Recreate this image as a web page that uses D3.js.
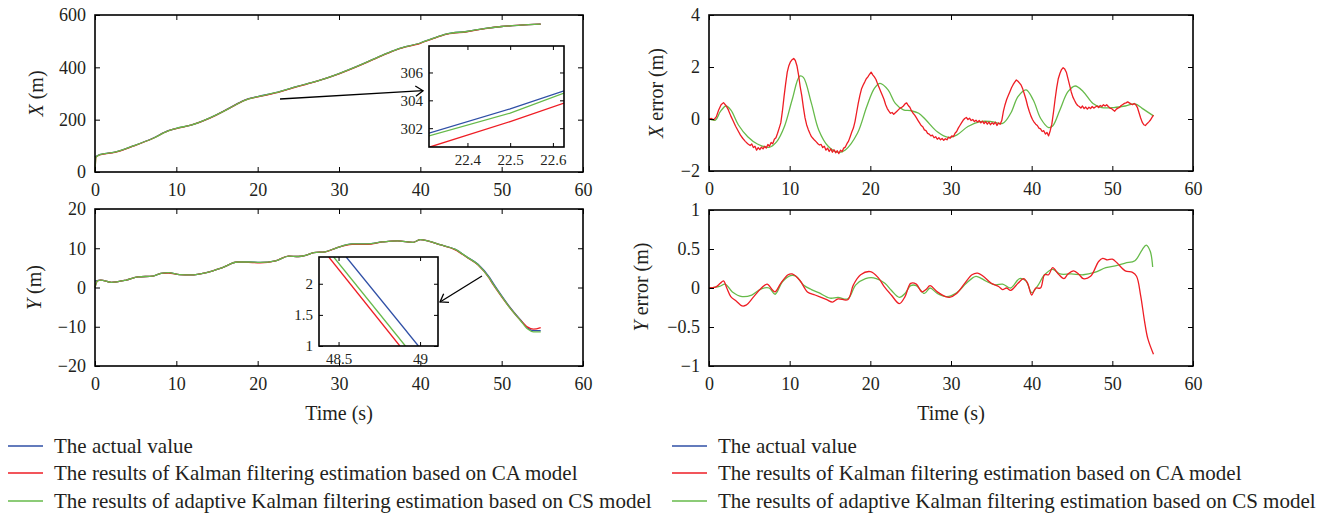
<!DOCTYPE html>
<html><head><meta charset="utf-8">
<script src="https://cdn.jsdelivr.net/npm/d3@7"></script>
<style>body{margin:0;background:#fff}svg{display:block}</style>
</head><body><svg id="c" width="1334" height="516"></svg>
<script>
// ---------------- DATA ----------------
const seriesNames = ["The actual value",
  "The results of Kalman filtering estimation based on CA model",
  "The results of adaptive Kalman filtering estimation based on CS model"];

const xTicksMain = [0,10,20,30,40,50,60];
const yTicksX = [0,200,400,600];
const yTicksY = [-20,-10,0,10,20];
const yTicksXErr = [-2,0,2,4];
const yTicksYErr = [-1,-0.5,0,0.5,1];

// X position (m): [time s, value]
const xActual = [[0,57],[0.56,66],[2.44,76],[4.8,101],[7.1,129],[9.0,158],[10,167],[11.8,179],[14.2,208],[16.5,244],[18.4,275],[20,288],[22.2,303],[25,328],[27.3,347],[30,376],[33,414],[35.3,446],[37.2,470],[40,493],[41.4,509],[43.3,528],[45.7,537],[48,549],[50,556],[52.3,561],[54.8,565]];
const xCA = [[0,0],[0.12,57],[0.56,65],[2.44,75],[4.8,100],[7.1,128],[9.0,157],[10,166],[11.8,179],[14.2,207],[16.5,243],[18.4,274],[20,287],[22.2,302],[25,327],[27.3,347],[30,375],[33,413],[35.3,445],[37.2,469],[40,492],[41.4,508],[43.3,527],[45.7,536],[48,548],[50,556],[52.3,561],[54.8,565]];
const xCS = [[0,0],[0.12,57],[0.56,66],[2.44,76],[4.8,101],[7.1,128],[9.0,157],[10,167],[11.8,179],[14.2,208],[16.5,243],[18.4,274],[20,288],[22.2,303],[25,328],[27.3,347],[30,376],[33,414],[35.3,446],[37.2,470],[40,493],[41.4,509],[43.3,528],[45.7,537],[48,549],[50,556],[52.3,561],[54.8,565]];

// Y position (m)
const yActual = [[0,1.6],[0.7,1.9],[2,1.3],[3.85,1.9],[5.3,2.7],[7.1,2.9],[8.1,3.6],[9,3.8],[10.4,3.3],[11.8,3.2],[13.7,3.8],[15.6,5.0],[17.5,6.5],[18.9,6.5],[20.3,6.4],[22.2,6.8],[23.8,8.0],[25,7.9],[25.9,8.2],[26.9,8.9],[28.3,9.1],[29.7,10.1],[31.6,11.1],[33.5,11.1],[35.3,11.6],[37.2,11.9],[39.1,11.5],[40,12.2],[41,11.8],[42.4,10.9],[44.3,9.7],[45.7,7.8],[47.1,5.9],[48.55,2.43],[48.99,1.0],[49.4,-0.3],[50.8,-4.4],[52.3,-8.2],[53.2,-10.3],[53.9,-11.0],[54.8,-11.0]];
const yCA = [[0,0],[0.3,1.7],[0.7,1.9],[2,1.3],[3.85,1.9],[5.3,2.7],[7.1,2.9],[8.1,3.6],[9,3.7],[10.4,3.3],[11.8,3.2],[13.7,3.8],[15.6,5.0],[17.5,6.5],[18.9,6.4],[20.3,6.3],[22.2,6.8],[23.8,8.0],[25,7.9],[25.9,8.2],[26.9,8.9],[28.3,9.1],[29.7,10.1],[31.6,11.0],[33.5,11.0],[35.3,11.6],[37.2,11.9],[39.1,11.5],[40,12.2],[41,11.8],[42.4,10.9],[44.3,9.6],[45.7,7.7],[47.1,5.7],[48.44,2.43],[48.876,1.0],[49.4,-0.6],[50.8,-4.6],[52.3,-8.3],[53.2,-10.1],[53.9,-10.6],[54.8,-10.2]];
const yCS = [[0,0],[0.3,1.7],[0.7,1.9],[2,1.3],[3.85,1.9],[5.3,2.7],[7.1,2.9],[8.1,3.6],[9,3.8],[10.4,3.3],[11.8,3.2],[13.7,3.8],[15.6,5.0],[17.5,6.5],[18.9,6.5],[20.3,6.4],[22.2,6.8],[23.8,8.0],[25,7.9],[25.9,8.2],[26.9,8.9],[28.3,9.1],[29.7,10.1],[31.6,11.1],[33.5,11.1],[35.3,11.6],[37.2,11.9],[39.1,11.5],[40,12.2],[41,11.8],[42.4,10.9],[44.3,9.7],[45.7,7.8],[47.1,5.8],[48.47,2.43],[48.91,1.0],[49.4,-0.5],[50.8,-4.6],[52.3,-8.4],[53.2,-10.6],[53.9,-11.3],[54.8,-11.3]];

// X error (m)
const xErrCA = [[0,0],[0.3,0.02],[0.6,-0.03],[0.9,0.08],[1.2,0.35],[1.5,0.55],[1.8,0.63],[2.1,0.52],[2.4,0.35],[2.7,0.12],[3.0,-0.08],[3.3,-0.28],[3.6,-0.45],[3.9,-0.62],[4.2,-0.75],[4.5,-0.86],[4.8,-0.95],[5.1,-1.02],[5.3,-0.96],[5.5,-1.1],[5.7,-1.05],[5.9,-1.2],[6.1,-1.1],[6.3,-1.18],[6.5,-1.08],[6.7,-1.15],[6.9,-1.05],[7.1,-1.12],[7.3,-0.98],[7.5,-1.05],[7.7,-0.9],[7.9,-0.95],[8.1,-0.78],[8.3,-0.72],[8.5,-0.55],[8.7,-0.35],[8.9,-0.15],[9.1,0.3],[9.3,0.85],[9.5,1.35],[9.7,1.8],[9.9,2.05],[10.1,2.2],[10.3,2.28],[10.5,2.33],[10.7,2.25],[10.9,2.05],[11.1,1.7],[11.3,1.25],[11.5,0.9],[11.7,0.45],[11.9,0.05],[12.1,-0.22],[12.3,-0.4],[12.5,-0.55],[12.7,-0.68],[12.9,-0.75],[13.1,-0.82],[13.3,-0.88],[13.5,-0.95],[13.7,-1.0],[13.9,-0.98],[14.1,-1.1],[14.3,-1.05],[14.5,-1.2],[14.7,-1.12],[14.9,-1.25],[15.1,-1.15],[15.3,-1.28],[15.5,-1.18],[15.7,-1.3],[15.9,-1.22],[16.1,-1.33],[16.3,-1.2],[16.5,-1.25],[16.7,-1.12],[16.9,-1.08],[17.1,-0.95],[17.3,-0.85],[17.5,-0.68],[17.7,-0.5],[17.9,-0.35],[18.1,-0.1],[18.3,0.25],[18.5,0.6],[18.7,0.9],[18.9,1.15],[19.1,1.3],[19.3,1.42],[19.5,1.55],[19.7,1.62],[19.9,1.72],[20.1,1.8],[20.3,1.7],[20.5,1.62],[20.7,1.52],[20.9,1.35],[21.1,1.2],[21.3,1.05],[21.5,0.9],[21.7,0.75],[21.9,0.55],[22.1,0.4],[22.3,0.3],[22.5,0.22],[22.7,0.25],[22.9,0.18],[23.1,0.24],[23.3,0.3],[23.5,0.36],[23.7,0.42],[23.9,0.45],[24.1,0.5],[24.3,0.58],[24.5,0.62],[24.7,0.52],[24.9,0.45],[25.1,0.32],[25.3,0.22],[25.5,0.15],[25.7,0.05],[25.9,-0.05],[26.1,-0.15],[26.3,-0.25],[26.5,-0.3],[26.7,-0.42],[26.9,-0.45],[27.1,-0.55],[27.3,-0.58],[27.5,-0.65],[27.7,-0.62],[27.9,-0.72],[28.1,-0.68],[28.3,-0.78],[28.5,-0.72],[28.7,-0.8],[28.9,-0.75],[29.1,-0.82],[29.3,-0.76],[29.5,-0.8],[29.7,-0.7],[29.9,-0.74],[30.1,-0.65],[30.3,-0.68],[30.5,-0.55],[30.7,-0.48],[30.9,-0.35],[31.1,-0.25],[31.3,-0.15],[31.5,-0.05],[31.7,0.02],[31.9,0.06],[32.1,-0.02],[32.3,0.03],[32.5,-0.06],[32.7,-0.02],[32.9,-0.1],[33.1,-0.05],[33.3,-0.12],[33.5,-0.06],[33.7,-0.15],[33.9,-0.08],[34.1,-0.18],[34.3,-0.1],[34.5,-0.2],[34.7,-0.12],[34.9,-0.22],[35.1,-0.14],[35.3,-0.2],[35.5,-0.12],[35.7,-0.25],[35.9,-0.15],[36.1,-0.2],[36.3,-0.05],[36.5,0.3],[36.7,0.55],[36.9,0.75],[37.1,0.9],[37.3,1.05],[37.5,1.2],[37.7,1.32],[37.9,1.42],[38.1,1.5],[38.3,1.45],[38.5,1.38],[38.7,1.3],[38.9,1.15],[39.1,0.95],[39.3,0.75],[39.5,0.5],[39.7,0.3],[39.9,0.12],[40.1,-0.02],[40.3,-0.12],[40.5,-0.2],[40.7,-0.25],[40.9,-0.35],[41.1,-0.38],[41.3,-0.48],[41.5,-0.45],[41.7,-0.58],[41.9,-0.52],[42.1,-0.65],[42.3,-0.45],[42.5,-0.2],[42.7,0.25],[42.9,0.75],[43.1,1.2],[43.3,1.55],[43.5,1.75],[43.7,1.9],[43.9,1.97],[44.1,1.92],[44.3,1.8],[44.5,1.55],[44.7,1.3],[44.9,1.05],[45.1,0.85],[45.3,0.72],[45.5,0.6],[45.7,0.52],[45.9,0.48],[46.1,0.42],[46.3,0.5],[46.5,0.4],[46.7,0.46],[46.9,0.38],[47.1,0.45],[47.3,0.4],[47.5,0.48],[47.7,0.42],[47.9,0.46],[48.1,0.5],[48.3,0.44],[48.5,0.52],[48.7,0.48],[48.9,0.55],[49.1,0.5],[49.3,0.55],[49.5,0.48],[49.7,0.42],[49.9,0.4],[50.1,0.35],[50.3,0.3],[50.5,0.38],[50.7,0.42],[50.9,0.45],[51.1,0.52],[51.3,0.56],[51.5,0.6],[51.7,0.62],[51.9,0.66],[52.1,0.62],[52.3,0.58],[52.5,0.55],[52.7,0.6],[52.9,0.55],[53.1,0.45],[53.3,0.25],[53.5,0.05],[53.7,-0.12],[53.9,-0.22],[54.1,-0.25],[54.3,-0.18],[54.5,-0.12],[54.7,-0.05],[54.9,0.05],[55.1,0.15]];
const xErrCS = [[0,0],[0.8,-0.04],[1.4,0.28],[2.1,0.5],[2.7,0.35],[3.65,-0.23],[4.8,-0.68],[6.0,-0.96],[7.45,-1.09],[8.4,-0.87],[9.35,-0.29],[10.3,0.73],[11.25,1.65],[11.7,1.6],[12.7,0.6],[13.6,-0.42],[14.8,-1.06],[16.0,-1.28],[16.9,-1.19],[18.4,-0.55],[19.55,0.47],[20.5,1.18],[21.2,1.37],[22.2,1.12],[23.1,0.6],[24.1,0.35],[25.0,0.32],[26.0,0.22],[26.9,-0.04],[28.3,-0.49],[29.7,-0.71],[30.7,-0.62],[32.1,-0.29],[33.6,-0.1],[35.0,-0.1],[36.4,-0.17],[37.4,0.22],[38.3,0.86],[39.3,1.12],[40.2,0.73],[41.1,0.03],[42.1,-0.33],[42.6,-0.27],[43.5,0.35],[44.5,1.05],[45.4,1.27],[46.4,1.05],[47.6,0.6],[48.7,0.44],[50.2,0.44],[51.6,0.5],[52.8,0.58],[53.7,0.41],[55.1,0.12]];

// Y error (m)
const yErrCA = [[0,0],[0.8,0.01],[1.4,0.06],[1.8,0.09],[2.2,0],[2.7,-0.11],[3.4,-0.17],[4.1,-0.23],[4.6,-0.22],[5.55,-0.11],[6.5,0],[7.2,0.05],[7.9,-0.03],[8.2,-0.05],[8.9,0.06],[9.8,0.17],[10.3,0.18],[11.25,0.1],[12.2,-0.05],[13.15,-0.09],[14.6,-0.15],[15.3,-0.18],[16.0,-0.14],[17.2,-0.15],[17.9,0.04],[18.8,0.17],[20.0,0.21],[21.0,0.13],[21.7,0.02],[22.6,-0.09],[23.6,-0.2],[24.3,-0.11],[25.0,0.06],[25.7,0.05],[26.4,-0.05],[26.9,-0.02],[27.4,0.03],[28.3,-0.05],[29.3,-0.11],[29.8,-0.12],[30.7,-0.07],[31.7,0.06],[32.6,0.17],[33.3,0.19],[34.0,0.15],[35.0,0.06],[35.9,0.02],[36.4,-0.02],[36.9,0],[37.4,-0.03],[38.3,0.06],[39.0,0.12],[39.5,0.06],[40.0,-0.09],[40.5,0],[41.1,0],[41.6,0.17],[42.1,0.17],[42.6,0.26],[43.3,0.18],[44.0,0.12],[44.5,0.18],[45.2,0.22],[45.9,0.17],[46.4,0.12],[47.3,0.15],[48.3,0.34],[48.8,0.38],[49.4,0.36],[50.0,0.37],[50.6,0.32],[51.6,0.22],[52.5,0.2],[53.0,0.15],[53.5,-0.09],[54.0,-0.43],[54.4,-0.65],[55.1,-0.85]];
const yErrCS = [[0,0],[1.3,0.02],[2.0,0.05],[2.9,-0.05],[4.1,-0.11],[5.3,-0.09],[6.5,-0.01],[7.45,0],[8.2,-0.08],[9.1,0.08],[10.1,0.16],[10.8,0.15],[11.7,0.04],[12.7,-0.02],[13.6,-0.06],[15.0,-0.13],[16.0,-0.12],[17.2,-0.14],[18.2,0.04],[19.4,0.12],[20.4,0.13],[21.8,0.06],[22.6,-0.03],[23.6,-0.12],[24.3,-0.07],[25.0,0.03],[25.7,0.03],[26.7,-0.07],[27.4,0],[28.3,-0.07],[29.5,-0.11],[30.7,-0.06],[31.9,0.06],[33.1,0.15],[34.3,0.09],[35.5,0.04],[36.4,0.05],[37.4,0],[38.5,0.12],[39.3,0.09],[40.0,-0.06],[40.7,0.02],[41.6,0.17],[42.6,0.24],[43.5,0.18],[44.9,0.18],[46.4,0.17],[47.8,0.2],[49.2,0.26],[50.6,0.29],[51.6,0.32],[52.8,0.35],[53.7,0.49],[54.2,0.55],[54.7,0.47],[55.0,0.27]];

// Zoomed insets
const insetXTicks = [22.4,22.5,22.6];
const insetXYTicks = [302,304,306];
const insetXActual = [[22.31,301.64],[22.5,303.39],[22.626,304.68]];
const insetXCA = [[22.31,300.63],[22.5,302.48],[22.626,303.8]];
const insetXCS = [[22.31,301.45],[22.5,303.08],[22.626,304.52]];

const insetYTicksX = [48.5,49];
const insetYTicksY = [1,1.5,2];
const insetYActual = [[48.547,2.43],[48.99,1.0]];
const insetYCA = [[48.44,2.43],[48.876,1.0]];
const insetYCS = [[48.47,2.43],[48.91,1.0]];

// ---------------- DRAW ----------------
const svg = d3.select('#c');
const FONT = '"Liberation Serif","Times New Roman",serif';
const TXT = '#231f20';
const COL = {actual:'#2f4fa6', ca:'#ee1d24', cs:'#66ba4a'};
const fmt = d => d < 0 ? '\u2212' + Math.abs(d) : String(d);

function axes(g, x, y, o){
  const style = s => s.call(q=>q.select('.domain').remove())
      .attr('font-family', FONT).attr('font-size', o.fs).attr('color', '#000');
  g.append('g').attr('transform', `translate(0,${o.y1})`)
    .call(d3.axisBottom(x).tickValues(o.xTicks).tickSizeInner(-o.tk).tickSizeOuter(0).tickPadding(o.xPad).tickFormat(fmt)).call(style);
  g.append('g').attr('transform', `translate(0,${o.y0})`)
    .call(d3.axisTop(x).tickValues(o.xTicks).tickSizeInner(-o.tk).tickSizeOuter(0).tickFormat('')).call(style);
  g.append('g').attr('transform', `translate(${o.x0},0)`)
    .call(d3.axisLeft(y).tickValues(o.yTicks).tickSizeInner(-o.tk).tickSizeOuter(0).tickPadding(o.yPad).tickFormat(fmt)).call(style);
  g.append('g').attr('transform', `translate(${o.x1},0)`)
    .call(d3.axisRight(y).tickValues(o.yTicks).tickSizeInner(-o.tk).tickSizeOuter(0).tickFormat('')).call(style);
  g.selectAll('.tick text').attr('fill', TXT);
  g.selectAll('.tick line').attr('stroke-width', 1);
  g.append('rect').attr('x', o.x0).attr('y', o.y0).attr('width', o.x1-o.x0).attr('height', o.y1-o.y0)
    .attr('fill', 'none').attr('stroke', '#000').attr('stroke-width', 1.6);
}

function drawLines(g, x, y, list, clipId){
  const lg = g.append('g');
  if (clipId) lg.attr('clip-path', `url(#${clipId})`);
  list.forEach(([data, col, curve]) => {
    const line = d3.line().x(d=>x(d[0])).y(d=>y(d[1])).curve(curve || d3.curveLinear);
    lg.append('path').datum(data).attr('d', line).attr('fill','none')
      .attr('stroke', col).attr('stroke-width', 1.3).attr('stroke-linejoin','round');
  });
}

function yTitle(cx, cy, letter, rest){
  const t = svg.append('text').attr('transform', `translate(${cx},${cy}) rotate(-90)`)
    .attr('text-anchor','middle').attr('dominant-baseline','central')
    .attr('font-family', FONT).attr('font-size', 20).attr('fill', TXT);
  t.append('tspan').attr('font-style','italic').text(letter);
  t.append('tspan').text(rest);
}
function arrow(x1,y1,x2,y2){
  const g = svg.append('g').attr('stroke','#000').attr('stroke-width',1.3).attr('fill','none');
  g.append('line').attr('x1',x1).attr('y1',y1).attr('x2',x2).attr('y2',y2);
  const a = Math.atan2(y2-y1, x2-x1), L = 9, s = 0.6;
  g.append('path').attr('d', `M${x2-L*Math.cos(a-s)},${y2-L*Math.sin(a-s)}L${x2},${y2}L${x2-L*Math.cos(a+s)},${y2-L*Math.sin(a+s)}`);
}

const defs = svg.append('defs');

function makePanel(o){
  const g = svg.append('g');
  const x = d3.scaleLinear().domain([0,60]).range([o.x0, o.x1]);
  const y = d3.scaleLinear().domain(o.yDomain).range([o.y1, o.y0]);
  drawLines(g, x, y, o.series);
  axes(g, x, y, Object.assign({xTicks: xTicksMain, fs: 18, tk: 5, xPad: 11, yPad: 9}, o));
  return {x, y};
}

function makeInset(o){
  const g = svg.append('g');
  const x = d3.scaleLinear().domain(o.xDomain).range([o.x0, o.x1]);
  const y = d3.scaleLinear().domain(o.yDomain).range([o.y1, o.y0]);
  g.append('rect').attr('x',o.x0).attr('y',o.y0).attr('width',o.x1-o.x0).attr('height',o.y1-o.y0).attr('fill','#fff');
  defs.append('clipPath').attr('id', o.id).append('rect')
    .attr('x',o.x0).attr('y',o.y0).attr('width',o.x1-o.x0).attr('height',o.y1-o.y0);
  drawLines(g, x, y, o.series, o.id);
  axes(g, x, y, Object.assign({fs: 15, tk: 4, xPad: 7, yPad: 6}, o));
}

const smooth = d3.curveMonotoneX;
const cr = d3.curveCatmullRom.alpha(0.5);

// Panel 1: X (m)
const P1 = makePanel({x0:95, x1:583, y0:15, y1:172, yDomain:[0,600], yTicks:yTicksX,
  series:[[xActual,COL.actual,smooth],[xCA,COL.ca,smooth],[xCS,COL.cs,smooth]]});
// Panel 2: Y (m)
const P2 = makePanel({x0:95, x1:583, y0:209, y1:366, yDomain:[-20,20], yTicks:yTicksY,
  series:[[yActual,COL.actual,smooth],[yCA,COL.ca,smooth],[yCS,COL.cs,smooth]]});
// Panel 3: X error
makePanel({x0:709, x1:1193, y0:15, y1:171, yDomain:[-2,4], yTicks:yTicksXErr,
  series:[[xErrCS,COL.cs,cr],[xErrCA,COL.ca,d3.curveLinear]]});
// Panel 4: Y error
makePanel({x0:709, x1:1193, y0:210, y1:366, yDomain:[-1,1], yTicks:yTicksYErr,
  series:[[yErrCS,COL.cs,cr],[yErrCA,COL.ca,cr]]});

// Insets
makeInset({id:'clipA', x0:429, x1:564, y0:46, y1:147, xDomain:[22.31,22.626], yDomain:[300.65,307.9],
  xTicks:insetXTicks, yTicks:insetXYTicks,
  series:[[insetXActual,COL.actual],[insetXCA,COL.ca],[insetXCS,COL.cs]]});
makeInset({id:'clipB', x0:319, x1:438, y0:257, y1:346, xDomain:[48.38,49.11], yDomain:[1,2.43],
  xTicks:insetYTicksX, yTicks:insetYTicksY,
  series:[[insetYActual,COL.actual],[insetYCA,COL.ca],[insetYCS,COL.cs]]});

// Arrows (data coordinates)
arrow(P1.x(22.75), P1.y(279), P1.x(40.33), P1.y(310.7));
arrow(P2.x(47.58), P2.y(2.93), P2.x(42.42), P2.y(-3.69));

// Titles
yTitle(36, 93.5, 'X', ' (m)');
yTitle(34, 287.5, 'Y', ' (m)');
yTitle(656, 93, 'X', ' error (m)');
yTitle(641, 287, 'Y', ' error (m)');
[[339,'Time (s)'],[951,'Time (s)']].forEach(([cx,t]) => {
  svg.append('text').attr('x',cx).attr('y',413).attr('text-anchor','middle').attr('dominant-baseline','central')
    .attr('font-family',FONT).attr('font-size',20).attr('fill',TXT).text(t);
});

// Legends
const legCols = [COL.actual, COL.ca, COL.cs];
const rowsY = [446, 473, 501];
let fs = 20;
{
  const probe = svg.append('text').attr('font-family',FONT).attr('font-size',20).text(seriesNames[2]);
  const w = probe.node().getComputedTextLength();
  probe.remove();
  fs = 20 * 598 / w;
}
[[8],[672]].forEach(([lx]) => {
  seriesNames.forEach((name,i) => {
    svg.append('line').attr('x1',lx).attr('x2',lx+35).attr('y1',rowsY[i]).attr('y2',rowsY[i])
      .attr('stroke',legCols[i]).attr('stroke-width',1.4);
    svg.append('text').attr('x',lx+46).attr('y',rowsY[i]).attr('dominant-baseline','central')
      .attr('font-family',FONT).attr('font-size',fs).attr('fill',TXT).text(name);
  });
});
</script>
</body></html>
